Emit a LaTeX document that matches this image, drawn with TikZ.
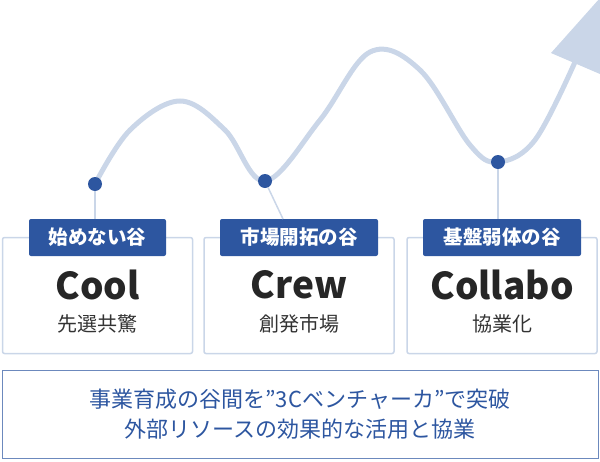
\documentclass[tikz,border=0pt]{standalone}
\usepackage{fontspec}
\setmainfont{Noto Sans CJK JP}
\usepackage{tikz}
\usetikzlibrary{positioning, calc}
\definecolor{navy}{HTML}{2D56A0}
\definecolor{pale}{HTML}{CAD6E8}

\begin{document}
\begin{tikzpicture}[
        x=1pt, y=-1pt,
        card/.style = {draw=pale, line width=1.5pt, rounded corners=2pt, minimum width=190pt, minimum height=116pt},
        tag/.style = {fill=navy, rounded corners=2pt, minimum width=137pt, minimum height=37pt, inner sep=2pt, text=white, font=\fontsize{19.5}{20}\selectfont\bfseries},
        big/.style = {font=\fontsize{37}{37}\selectfont\bfseries, text=black!85},
        sub/.style = {font=\fontsize{20}{20}\selectfont, text=black!80},
        dot/.style = {circle, fill=navy, inner sep=0pt, minimum size=14pt},
        stem/.style = {pale, line width=1.5pt},
    ]
        \useasboundingbox (0,0) rectangle (600,461);
        % wave with arrow head
        \draw[pale, line width=5pt] plot[smooth, tension=0.6] coordinates {(95,184) (130,130) (180,101) (225,130) (265,181) (320,120) (370,52) (420,70) (470,145) (498,162) (535,140) (575,62)};
        \fill[pale] (551,53) -- (600,74) -- (600,-2) -- cycle;
        % cards
        \node[card] (C1) at (97.5,295.5) {};
        \node[card] (C2) at (299,295.5) {};
        \node[card] (C3) at (502,295.5) {};
        \node[dot] (D1) at (95,184) {};
        \node[dot] (D2) at (265,181) {};
        \node[dot] (D3) at (498,162) {};
        \node[tag] (T1) at (97.5,237.5) {始めない谷};
        \node[tag, minimum width=158pt] (T2) at (299,237.5) {市場開拓の谷};
        \node[tag, minimum width=158pt] (T3) at (502,237.5) {基盤弱体の谷};
        \draw[stem] (D1) -- (D1 |- T1.north);
        \draw[stem] (D2) -- (283,219);
        \draw[stem] (D3) -- (D3 |- T3.north);
        \node[big] (W1) at (97.5,285) {Cool};
        \node[big] (W2) at (299,285) {Crew};
        \node[big] (W3) at (502,285) {Collabo};
        \node[sub] (S1) at (97.5,324) {先選共驚};
        \node[sub] (S2) at (299,324) {創発市場};
        \node[sub] (S3) at (502,324) {協業化};
        % summary box
        \node[draw=navy!70, line width=1pt, minimum width=596pt, minimum height=88pt, align=center, text=navy, font=\fontsize{22}{30}\selectfont] (M) at (300,414) {事業育成の谷間を”3Cベンチャーカ”で突破\\外部リソースの効果的な活用と協業};
    \end{tikzpicture}
\end{document}
